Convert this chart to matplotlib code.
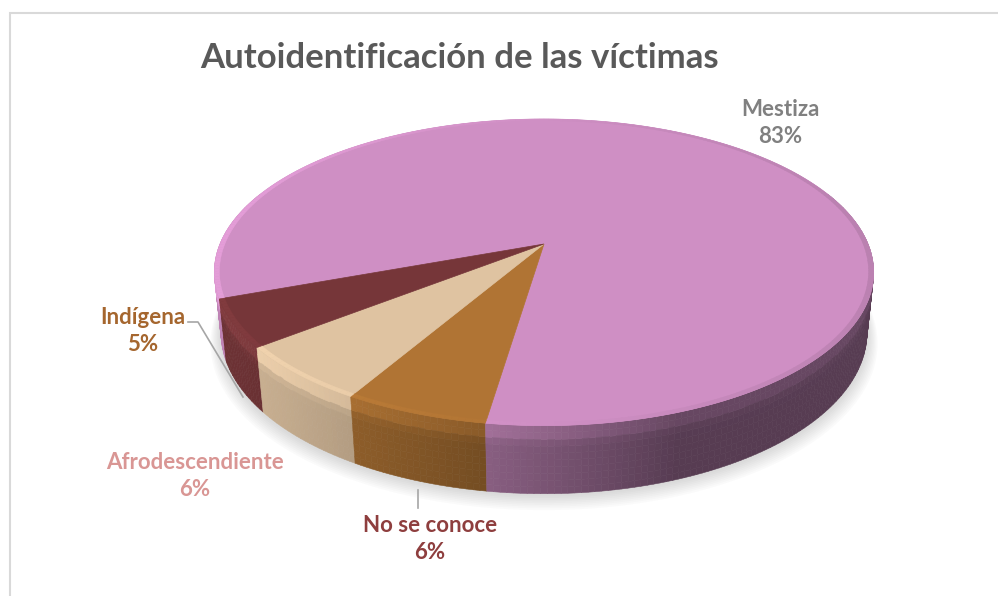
import numpy as np
import matplotlib
matplotlib.use("Agg")
import matplotlib.pyplot as plt
from matplotlib.patches import Polygon, Rectangle
from matplotlib.collections import PolyCollection
from matplotlib.colors import to_rgb

# ── Data ──────────────────────────────────────────────────────────────────────
labels = ["Mestiza", "No se conoce", "Afrodescendiente", "Indígena"]
shares = [83, 6, 6, 5]
top_colors = ["#CF8FC4", "#B07434", "#DFC3A1", "#763639"]
label_colors = ["#808080", "#8E3E3E", "#D99694", "#A5662E"]
title = "Autoidentificación de las víctimas"

# ── Layout (pixel coordinates of a 998x596 canvas) ───────────────────────────
W, H_PX = 998, 596
CX, CY = 544, 244          # apex of the pie on screen
SCALE = 324                # pixels per unit radius
D = 4.82                   # perspective distance
ELEV = np.arcsin(0.457)    # camera elevation
DEPTH = 0.21               # pie thickness (unit radius)
START = np.deg2rad(200.3)  # first slice starts here, goes clockwise
LIGHT = np.deg2rad(200)

label_xy = {
    "Mestiza": (780, 123),
    "No se conoce": (430, 539),
    "Afrodescendiente": (195, 476),
    "Indígena": (143, 331),
}

plt.rcParams["font.family"] = ["Lato", "DejaVu Sans"]


def project(t, z, r=1.0):
    x = r * np.cos(t)
    y = r * np.sin(t)
    v = z * np.cos(ELEV) + y * np.sin(ELEV)
    w = y * np.cos(ELEV) - z * np.sin(ELEV)
    f = D / (D + w)
    return CX + SCALE * x * f, CY - SCALE * v * f, w


def shade(t):
    return 0.42 + 0.5 * max(0.0, np.cos(t - LIGHT))


fig = plt.figure(figsize=(W / 100, H_PX / 100), dpi=100)
ax = fig.add_axes([0, 0, 1, 1])
ax.set_xlim(0, W)
ax.set_ylim(H_PX, 0)
ax.axis("off")

# chart frame
ax.add_patch(Rectangle((10, 13), 1000, 700, facecolor="white",
                       edgecolor="#D9D9D9", lw=1.5, zorder=0))

# slice angle ranges (clockwise from START)
total = float(sum(shares))
bounds = START - 2 * np.pi * np.concatenate([[0], np.cumsum(shares)]) / total

# soft shadow under the pie
tt = np.linspace(0, 2 * np.pi, 360)
for k in range(10):
    sx, sy, _ = project(tt, -DEPTH, r=1.0 + 0.0035 * k)
    ax.add_patch(Polygon(np.column_stack([sx, sy + 1 + 0.9 * k]), closed=True,
                         facecolor="#7F7F7F", edgecolor="none",
                         alpha=0.03, zorder=1))

# outer walls, built from small quads sorted far -> near
quads, cols, depths = [], [], []
n_layers = 10
for i in range(len(shares)):
    a0, a1 = bounds[i], bounds[i + 1]
    n = max(6, int(abs(a1 - a0) / np.deg2rad(1.0)))
    ts = np.linspace(a0, a1, n + 1)
    base = np.array(to_rgb(top_colors[i]))
    for j in range(n):
        t0, t1 = ts[j], ts[j + 1]
        tm = 0.5 * (t0 + t1)
        if np.sin(tm) > 0.35:
            continue
        for k in range(n_layers):
            z0 = -DEPTH * k / n_layers
            z1 = -DEPTH * (k + 1) / n_layers
            zf = (k + 0.5) / n_layers
            x00, y00, _ = project(t0, z0)
            x10, y10, _ = project(t1, z0)
            x11, y11, _ = project(t1, z1)
            x01, y01, _ = project(t0, z1)
            hl = 1 + 0.22 * np.exp(-((zf - 0.1) / 0.12) ** 2)
            c = np.clip(base * shade(tm) * hl, 0, 1)
            quads.append([(x00, y00), (x10, y10), (x11, y11), (x01, y01)])
            cols.append(c)
            depths.append(-np.sin(tm))
order = np.argsort(depths)
pc = PolyCollection([quads[o] for o in order],
                    facecolors=[cols[o] for o in order],
                    edgecolors=[cols[o] for o in order], linewidths=0.4,
                    zorder=2)
ax.add_collection(pc)

# top faces
for i in range(len(shares)):
    a0, a1 = bounds[i], bounds[i + 1]
    n = max(6, int(abs(a1 - a0) / np.deg2rad(0.5)))
    ts = np.linspace(a0, a1, n + 1)
    px, py, _ = project(ts, 0.0)
    pts = np.vstack([[CX, CY], np.column_stack([px, py])])
    ax.add_patch(Polygon(pts, closed=True, facecolor=top_colors[i],
                         edgecolor=top_colors[i], lw=0.5, zorder=3))

# thin bevel along the top rim: lighter on the left, darker on the right
rim_q, rim_c = [], []
for i in range(len(shares)):
    a0, a1 = bounds[i], bounds[i + 1]
    n = max(6, int(abs(a1 - a0) / np.deg2rad(1.0)))
    ts = np.linspace(a0, a1, n + 1)
    base = np.array(to_rgb(top_colors[i]))
    for j in range(n):
        t0, t1 = ts[j], ts[j + 1]
        tm = 0.5 * (t0 + t1)
        x0o, y0o, _ = project(t0, 0.0, 1.0)
        x1o, y1o, _ = project(t1, 0.0, 1.0)
        x1i, y1i, _ = project(t1, 0.0, 0.985)
        x0i, y0i, _ = project(t0, 0.0, 0.985)
        k = np.cos(tm - np.pi)
        c = np.clip(base * (1 + 0.10 * k), 0, 1)
        rim_q.append([(x0o, y0o), (x1o, y1o), (x1i, y1i), (x0i, y0i)])
        rim_c.append(c)
ax.add_collection(PolyCollection(rim_q, facecolors=rim_c, edgecolors=rim_c,
                                 linewidths=0.3, zorder=3.5))

# leader lines
ax.plot([188, 198, 243], [322, 322, 397], color="#A6A6A6", lw=1.2, zorder=4)
ax.plot([418, 418], [490, 508], color="#A6A6A6", lw=1.2, zorder=4)

# data labels
for lab, val, col in zip(labels, shares, label_colors):
    x, y = label_xy[lab]
    ax.text(x, y, f"{lab}\n{val}%", ha="center", va="center",
            fontsize=16, fontweight="bold", color=col,
            linespacing=1.4, zorder=5)

ax.text(460, 58, title, ha="center", va="center", fontsize=25,
        fontweight="bold", color="#595959", zorder=5)

fig.savefig("out.png", dpi=100)
